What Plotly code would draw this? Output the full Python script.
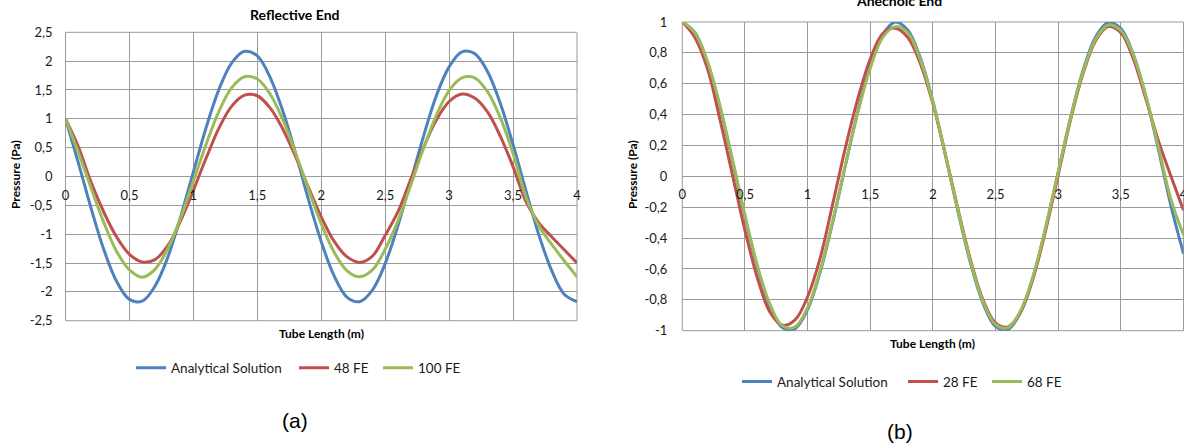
import plotly.graph_objects as go

# ---------------- data ----------------
X = [0.0, 0.1, 0.2, 0.3, 0.4, 0.5, 0.6, 0.7, 0.8, 0.9,
     1.0, 1.1, 1.2, 1.3, 1.4, 1.5, 1.6, 1.7, 1.8, 1.9,
     2.0, 2.1, 2.2, 2.3, 2.4, 2.5, 2.6, 2.7, 2.8, 2.9,
     3.0, 3.1, 3.2, 3.3, 3.4, 3.5, 3.6, 3.7, 3.8, 3.9, 4.0]

# (a) Reflective End
REFL_ANALYTICAL = [1.00, 0.24, -0.55, -1.27, -1.82, -2.13, -2.16, -1.90, -1.40, -0.70,
                   0.08, 0.85, 1.51, 1.97, 2.17, 2.09, 1.72, 1.13, 0.40, -0.40,
                   -1.13, -1.72, -2.09, -2.17, -1.97, -1.51, -0.85, -0.08, 0.70, 1.40,
                   1.90, 2.16, 2.13, 1.82, 1.27, 0.55, -0.24, -1.00, -1.62, -2.04, -2.17]
REFL_48FE = [1.00, 0.52, -0.10, -0.62, -1.05, -1.35, -1.48, -1.44, -1.20, -0.77,
             -0.24, 0.32, 0.84, 1.22, 1.41, 1.40, 1.19, 0.82, 0.34, -0.19,
             -0.70, -1.12, -1.39, -1.49, -1.38, -1.02, -0.61, -0.05, 0.50, 0.98,
             1.30, 1.43, 1.36, 1.12, 0.70, 0.17, -0.43, -0.80, -1.04, -1.27, -1.50]
REFL_100FE = [1.00, 0.42, -0.20, -0.80, -1.30, -1.62, -1.745, -1.61, -1.25, -0.72,
              -0.08, 0.56, 1.13, 1.54, 1.73, 1.69, 1.43, 0.98, 0.40, -0.22,
              -0.82, -1.31, -1.63, -1.74, -1.62, -1.26, -0.77, -0.15, 0.49, 1.06,
              1.49, 1.71, 1.71, 1.47, 1.02, 0.40, -0.35, -0.85, -1.17, -1.46, -1.74]

# (b) Anechoic End
ANEC_ANALYTICAL = [1.00, 0.933, 0.742, 0.451, 0.101, -0.263, -0.592, -0.843, -0.980, -0.986,
                   -0.862, -0.621, -0.298, 0.064, 0.418, 0.716, 0.919, 1.00, 0.946, 0.766,
                   0.485, 0.137, -0.228, -0.562, -0.822, -0.972, -0.992, -0.879, -0.650, -0.334,
                   0.027, 0.385, 0.691, 0.905, 0.997, 0.957, 0.789, 0.516, 0.173, -0.192, -0.50]
ANEC_28FE = [1.00, 0.90, 0.70, 0.37, 0.01, -0.35, -0.66, -0.88, -0.965, -0.93,
             -0.78, -0.53, -0.18, 0.18, 0.50, 0.76, 0.925, 0.96, 0.90, 0.73,
             0.47, 0.14, -0.21, -0.54, -0.80, -0.95, -0.975, -0.88, -0.66, -0.35,
             0.01, 0.37, 0.67, 0.88, 0.97, 0.93, 0.76, 0.50, 0.23, 0.00, -0.22]
ANEC_68FE = [1.00, 0.93, 0.745, 0.46, 0.11, -0.25, -0.58, -0.83, -0.97, -0.975,
             -0.85, -0.61, -0.29, 0.07, 0.41, 0.70, 0.90, 0.97, 0.93, 0.755,
             0.48, 0.14, -0.22, -0.55, -0.81, -0.96, -0.98, -0.87, -0.645, -0.33,
             0.03, 0.38, 0.68, 0.89, 0.98, 0.945, 0.785, 0.52, 0.19, -0.15, -0.38]

X_TICKS = [0, 0.5, 1, 1.5, 2, 2.5, 3, 3.5, 4]
X_TICK_TEXT = ["0", "0,5", "1", "1,5", "2", "2,5", "3", "3,5", "4"]
YA_TICKS = [-2.5, -2, -1.5, -1, -0.5, 0, 0.5, 1, 1.5, 2, 2.5]
YA_TICK_TEXT = ["-2,5", "-2", "-1,5", "-1", "-0,5", "0", "0,5", "1", "1,5", "2", "2,5"]
YB_TICKS = [-1, -0.8, -0.6, -0.4, -0.2, 0, 0.2, 0.4, 0.6, 0.8, 1]
YB_TICK_TEXT = ["-1", "-0,8", "-0,6", "-0,4", "-0,2", "0", "0,2", "0,4", "0,6", "0,8", "1"]

# ---------------- style ----------------
BLUE, RED, GREEN = "#4F81BD", "#C0504D", "#9BBB59"
GRID = "#9a9a9a"
FONT = "Lato"
W, H = 1184, 445

def px(x):
    return x / W

def py(y):
    return 1 - y / H

fig = go.Figure()

# (values, name, colour, xaxis, yaxis, legend id, legend x px, legend y px)
series = [
    (REFL_ANALYTICAL, "Analytical Solution", BLUE, "x", "y", "legend", 131, 368),
    (REFL_48FE, "48 FE", RED, "x", "y", "legend2", 294, 368),
    (REFL_100FE, "100 FE", GREEN, "x", "y", "legend3", 378, 368),
    (ANEC_ANALYTICAL, "Analytical Solution", BLUE, "x2", "y2", "legend4", 737, 381.7),
    (ANEC_28FE, "28 FE", RED, "x2", "y2", "legend5", 903, 381.7),
    (ANEC_68FE, "68 FE", GREEN, "x2", "y2", "legend6", 987, 381.7),
]
legends = {}
for ys, name, col, xa, ya, lg, lx, ly in series:
    fig.add_trace(go.Scatter(x=X, y=ys, name=name, mode="lines",
                             line=dict(color=col, width=3, shape="spline"),
                             xaxis=xa, yaxis=ya, legend=lg, hoverinfo="skip"))
    legends[lg] = dict(orientation="h", x=px(lx), y=py(ly), xanchor="left", yanchor="middle",
                       font=dict(family=FONT, size=13.5, color="#1a1a1a"),
                       bgcolor="rgba(0,0,0,0)", itemwidth=30)

axis_common = dict(showgrid=True, gridcolor=GRID, gridwidth=1, zeroline=False,
                   showline=False, ticks="", tickfont=dict(family=FONT, size=13, color="#1a1a1a"))

fig.update_layout(
    width=W, height=H, margin=dict(l=0, r=0, t=0, b=0, autoexpand=False),
    paper_bgcolor="white", plot_bgcolor="white",
    font=dict(family=FONT, size=12, color="#000"),
    xaxis=dict(domain=[px(65.5), px(577)], range=[0, 4], anchor="free", position=py(176.7),
               tickvals=X_TICKS, ticktext=X_TICK_TEXT, ticklabelstandoff=9,
               ticklabeloverflow="allow", **axis_common),
    yaxis=dict(domain=[py(320.7), py(32.3)], range=[-2.5, 2.5], anchor="x",
               tickvals=YA_TICKS, ticktext=YA_TICK_TEXT, ticklabelstandoff=12, **axis_common),
    xaxis2=dict(domain=[px(682.3), px(1183.5)], range=[0, 4], anchor="free", position=py(176.3),
                tickvals=X_TICKS, ticktext=X_TICK_TEXT, ticklabelstandoff=9,
                ticklabeloverflow="allow", **axis_common),
    yaxis2=dict(domain=[py(330.7), py(22)], range=[-1, 1], anchor="x2",
                tickvals=YB_TICKS, ticktext=YB_TICK_TEXT, ticklabelstandoff=14, **axis_common),
    showlegend=True,
    **legends,
)

# plot frames
for xr, yr in (("x domain", "y domain"), ("x2 domain", "y2 domain")):
    fig.add_shape(type="rect", xref=xr, yref=yr, x0=0, x1=1, y0=0, y1=1,
                  line=dict(color=GRID, width=1), layer="below")

def ann(text, x, y, size, angle=0, family=FONT):
    fig.add_annotation(text=text, x=px(x), y=py(y), xref="paper", yref="paper",
                       showarrow=False, xanchor="center", yanchor="middle",
                       textangle=angle, font=dict(family=family, size=size, color="#000"))

ann("<b>Reflective End</b>", 295, 15, 14)
ann("<b>Anechoic End</b>", 899, 1, 14)
ann("<b>Pressure (Pa)</b>", 15, 175, 12, -90)
ann("<b>Pressure (Pa)</b>", 632, 175, 12, -90)
ann("<b>Tube Length (m)</b>", 321, 333, 12)
ann("<b>Tube Length (m)</b>", 932, 343, 12)
ann("(a)", 295, 420, 21, family="Liberation Sans")
ann("(b)", 900, 431, 21, family="Liberation Sans")

fig.write_html("out.html")
